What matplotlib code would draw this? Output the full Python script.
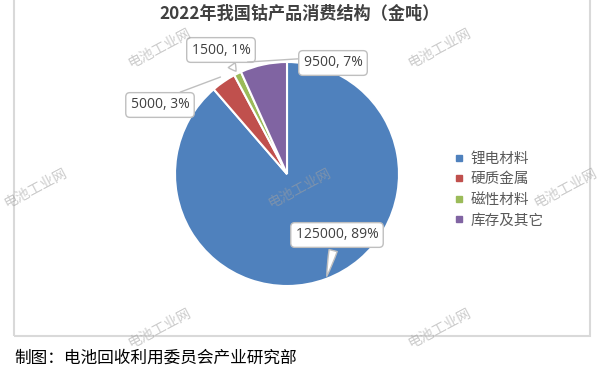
import numpy as np
import matplotlib
matplotlib.use('Agg')
import matplotlib.pyplot as plt
from matplotlib.lines import Line2D
from matplotlib.patches import Rectangle

plt.rcParams['font.family'] = ['Noto Sans CJK SC', 'DejaVu Sans']

# data
categories = ['锂电材料', '硬质金属', '磁性材料', '库存及其它']
values = [125000, 5000, 1500, 9500]
label_texts = ['125000, 89%', '5000, 3%', '1500, 1%', '9500, 7%']
colors = ['#4F81BD', '#C0504D', '#9BBB59', '#8064A2']

W, H = 606, 385
fig = plt.figure(figsize=(W / 100, H / 100), dpi=100)

def fx(x):
    return x / W

def fy(y):
    return 1 - y / H

# chart frame (top runs off the picture)
fig.patches.append(Rectangle((fx(14), fy(336)), fx(590) - fx(14), fy(-5) - fy(336),
                             transform=fig.transFigure, fill=False, ec='#d9d9d9', lw=1.5))

fig.text(fx(300), fy(14), '2022年我国钴产品消费结构（金吨）', ha='center', va='center',
         fontsize=12.3, fontweight='bold', color='#404040')

# pie: centre (287,174), radius 112 px
cx, cy, r = 287, 174, 112
ax = fig.add_axes([fx(cx - r), fy(cy + r), 2 * r / W, 2 * r / H])
wedges, _ = ax.pie(values, colors=colors, startangle=90, counterclock=False,
                   wedgeprops=dict(edgecolor='white', linewidth=1.5))
ax.set_xlim(-1, 1)
ax.set_ylim(-1, 1)
ax.set_aspect('equal')

# label boxes (text centre in pixels), where the pointer ends, pointer kind
label_pos = [(337, 235), (160, 105), (221, 50), (333, 63)]
tip_frac = [0.5, 0.5, 0.5, 0.8]
tip_r = [1.0, 1.05, 1.0, 1.06]
tip_kind = ['wedge', 'line', 'wedge', 'line']
line_start = [None, (0.6, 1.0), None, (0.0, 0.8)]
for w, txt, (lx, ly), tf, tr, kind, rp in zip(wedges, label_texts, label_pos, tip_frac,
                                              tip_r, tip_kind, line_start):
    ang = np.deg2rad(w.theta1 + tf * (w.theta2 - w.theta1))
    xy = (tr * np.cos(ang), tr * np.sin(ang))
    if kind == 'wedge':
        ap = dict(arrowstyle='wedge,tail_width=0.6,shrink_factor=0.6', fc='white',
                  ec='#bfbfbf', lw=1)
    else:
        ap = dict(arrowstyle='-', color='#bfbfbf', lw=1, shrinkA=0, shrinkB=0, relpos=rp)
    ax.annotate(txt, xy=xy, xytext=(fx(lx), fy(ly)), textcoords='figure fraction',
                ha='center', va='center', fontsize=10, color='#404040',
                family=['Open Sans', 'DejaVu Sans'],
                bbox=dict(boxstyle='round,pad=0.35,rounding_size=0.3', fc='white',
                          ec='#bfbfbf', lw=1),
                arrowprops=ap, annotation_clip=False)

# legend
handles = [Line2D([], [], marker='s', ls='', markersize=5, color=c) for c in colors]
fig.legend(handles, categories, loc='upper left', bbox_to_anchor=(fx(449), fy(146)),
           frameon=False, fontsize=10.5, labelcolor='#595959', handlelength=0.6,
           handletextpad=0.5, labelspacing=0.45, borderaxespad=0)

# watermarks
wm_x = [160, 440, 36, 300, 566, 160, 440]
wm_y = [48, 48, 188, 188, 188, 328, 328]
for x, y in zip(wm_x, wm_y):
    fig.text(fx(x), fy(y), '电池工业网', ha='center', va='center', rotation=28,
             fontsize=10, color='#a0a0a0', alpha=0.55, zorder=10)

fig.text(fx(14), fy(358), '制图：电池回收利用委员会产业研究部', ha='left', va='center',
         fontsize=12, color='black')

fig.savefig('out.png', dpi=100)
